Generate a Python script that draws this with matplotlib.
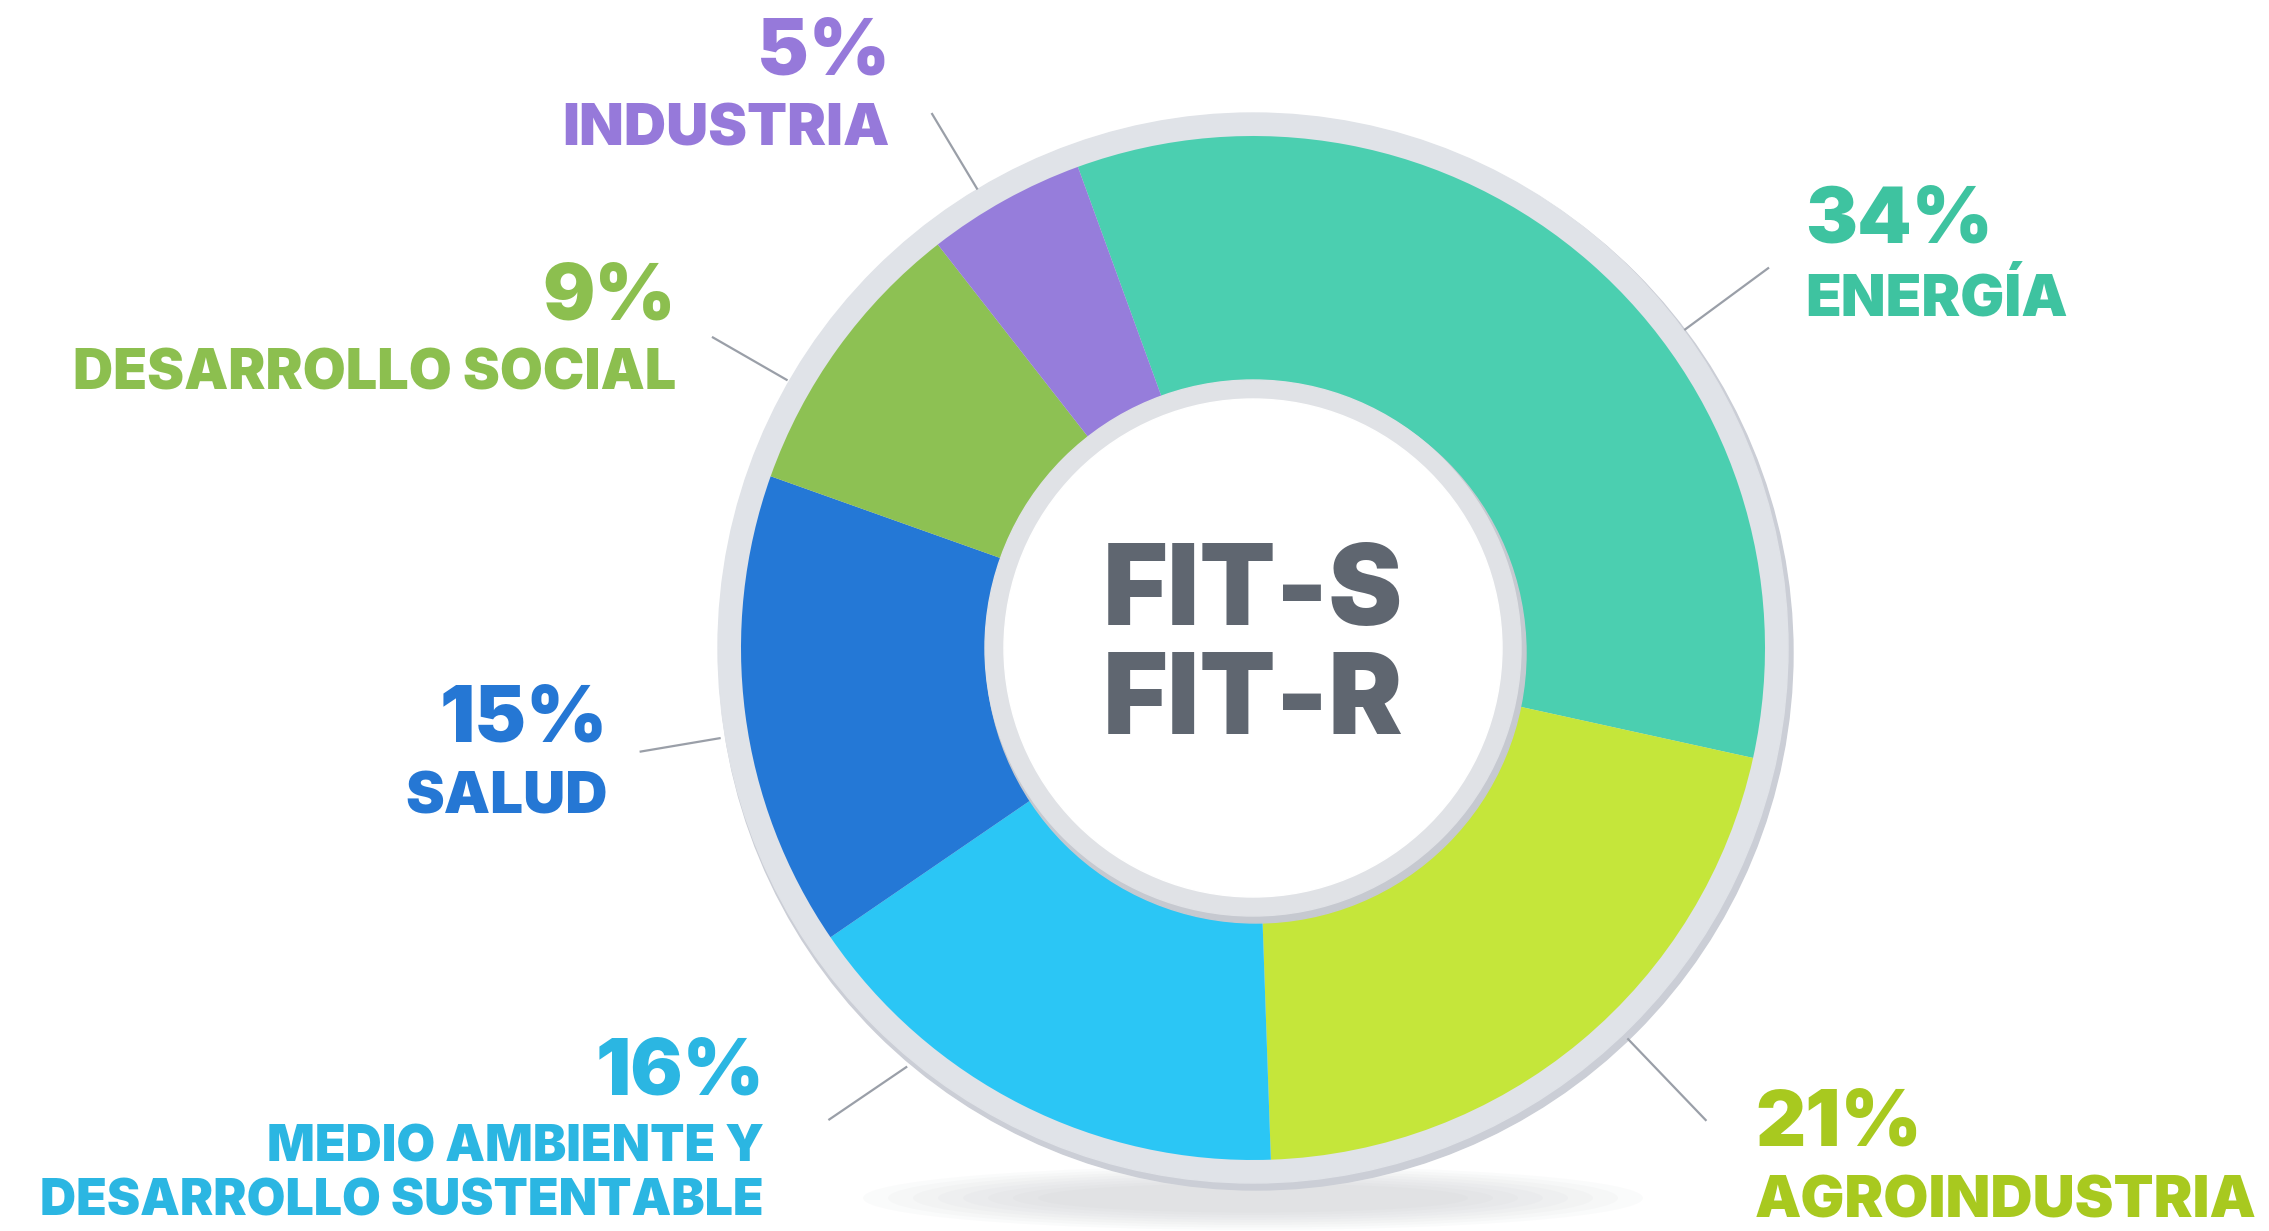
import matplotlib.pyplot as plt
from matplotlib.patches import Circle, Ellipse
import numpy as np

# shares (%) clockwise starting at the top
sectors = ['ENERGÍA', 'AGROINDUSTRIA', 'MEDIO AMBIENTE Y\nDESARROLLO SUSTENTABLE',
           'SALUD', 'DESARROLLO SOCIAL', 'INDUSTRIA']
shares = [34, 21, 16, 15, 9, 5]
wedge_colors = ['#4BCFB0', '#C5E63A', '#2BC6F5', '#2478D6', '#8DC153', '#967DDB']
text_colors = ['#3EC3A0', '#A8C91F', '#2BB6E2', '#2577D4', '#8CBF4F', '#9679DA']
center_text = 'FIT-S\nFIT-R'

W, H = 2269, 1231
cx, cy = 1253, H - 648
R = 512

fig = plt.figure(figsize=(W / 100, H / 100), dpi=100)
ax = fig.add_axes([0, 0, 1, 1])

font = ['Inter', 'DejaVu Sans']

wedges, _ = ax.pie(shares, colors=wedge_colors, startangle=110, counterclock=False,
                   radius=R, center=(cx, cy), frame=True,
                   wedgeprops=dict(linewidth=0))
for w in wedges:
    w.set_zorder(2)
ax.set_xlim(0, W)
ax.set_ylim(0, H)
ax.set_aspect('equal')
ax.axis('off')

# soft shadow under the ring
for k in range(8):
    ax.add_patch(Ellipse((cx, H - 1198), 780 - 50 * k, 64 - 5 * k,
                         color='#B8BBC2', alpha=0.06, lw=0, zorder=0))
# grey outer ring
ax.add_patch(Circle((cx + 3, cy - 5), 537, color='#CBCED6', zorder=1))
ax.add_patch(Circle((cx, cy), 535, color='#E0E3E8', zorder=1))

# inner white disc with grey rim
ax.add_patch(Circle((cx + 3, cy - 5), 270, color='#C6C9D0', zorder=3))
ax.add_patch(Circle((cx, cy), 268, color='#E0E2E6', zorder=3))
ax.add_patch(Circle((cx, cy), 249, color='white', zorder=4))
ax.text(cx, cy - 2, center_text, ha='center', va='center', fontsize=80,
        fontweight=900, family=font, color='#5F6670', linespacing=1.05, zorder=5)

# leader lines: polar angle of start, start radius, direction, length
leaders = [(36.4, 537, 36.4, 103), (-46.2, 542, -46.2, 112), (-129.6, 544, -145.8, 93),
           (-170.4, 541, -170.4, 80), (150.1, 538, 150.1, 85), (121.0, 536, 121.0, 87)]
for a0, r0, d, ln in leaders:
    x0 = cx + r0 * np.cos(np.radians(a0))
    y0 = cy + r0 * np.sin(np.radians(a0))
    ax.plot([x0, x0 + ln * np.cos(np.radians(d))], [y0, y0 + ln * np.sin(np.radians(d))],
            color='#9A9FA8', lw=1.6, zorder=1)

# label anchors (x, y of percentage centre), alignment, label size, line spacing
label_pos = [(1805, 222, 'left'), (1755, 1125, 'left'), (764, 1074, 'right'),
             (608, 721, 'right'), (676, 299, 'right'), (890, 54, 'right')]
label_size = [42, 42, 36, 42, 40, 42]
for name, s, c, (x, y, ha), fs in zip(sectors, shares, text_colors, label_pos, label_size):
    ax.text(x, H - y, f'{s}%', ha=ha, va='center', fontsize=56,
            fontweight=900, family=font, color=c)
    ax.text(x, H - y - 50, name, ha=ha, va='top', fontsize=fs,
            fontweight=900, family=font, color=c, linespacing=1.2)

fig.savefig('out.png', dpi=100, facecolor='white')
